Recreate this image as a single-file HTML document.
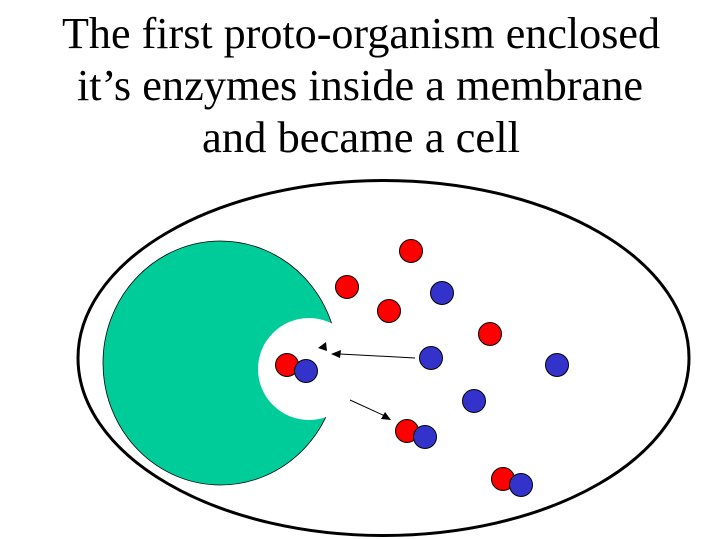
<!DOCTYPE html>
<html><head><style>html,body{margin:0;padding:0;background:#fff;width:719px;height:539px;overflow:hidden}</style></head>
<body>
<svg width="719" height="539" xmlns="http://www.w3.org/2000/svg">
<g font-family="Liberation Serif, serif" font-size="44" text-anchor="middle" fill="#000">
<text x="361" y="48" textLength="598" lengthAdjust="spacingAndGlyphs">The first proto-organism enclosed</text>
<text x="360" y="100" textLength="566" lengthAdjust="spacingAndGlyphs">it’s enzymes inside a membrane</text>
<text x="361" y="152" textLength="318" lengthAdjust="spacingAndGlyphs">and became a cell</text>
</g>
<ellipse cx="383.5" cy="358" rx="305.5" ry="177.5" fill="none" stroke="#000" stroke-width="3"/>
<ellipse cx="220.5" cy="363" rx="117.5" ry="122" fill="#00cc99" stroke="#000" stroke-width="0.8"/>
<circle cx="309" cy="369" r="51" fill="#fff"/>
<rect x="335" y="330" width="10" height="70" fill="#fff"/>
<g stroke="#000" stroke-width="1">
<circle cx="411" cy="251" r="11.5" fill="#f00"/>
<circle cx="347" cy="287" r="11.5" fill="#f00"/>
<circle cx="389" cy="311" r="11.5" fill="#f00"/>
<circle cx="490" cy="334" r="11.5" fill="#f00"/>
<circle cx="442" cy="293" r="11.5" fill="#3333cc"/>
<circle cx="431" cy="358" r="11.5" fill="#3333cc"/>
<circle cx="557" cy="365" r="11.5" fill="#3333cc"/>
<circle cx="474" cy="401" r="11.5" fill="#3333cc"/>
<circle cx="287" cy="365" r="11.5" fill="#f00"/>
<circle cx="306" cy="371" r="11.5" fill="#3333cc"/>
<circle cx="407" cy="431" r="11.5" fill="#f00"/>
<circle cx="425" cy="437" r="11.5" fill="#3333cc"/>
<circle cx="503" cy="479" r="11.5" fill="#f00"/>
<circle cx="521" cy="485" r="11.5" fill="#3333cc"/>
</g>
<line x1="415" y1="358" x2="340" y2="354" stroke="#000" stroke-width="1"/>
<polygon points="331,354 341,350 340,358" fill="#000"/>
<polygon points="318,348 326,342 327,351" fill="#000"/>
<line x1="350" y1="400" x2="385" y2="416" stroke="#000" stroke-width="1"/>
<polygon points="391,420 381,419 385,412" fill="#000"/>
</svg>
</body></html>
